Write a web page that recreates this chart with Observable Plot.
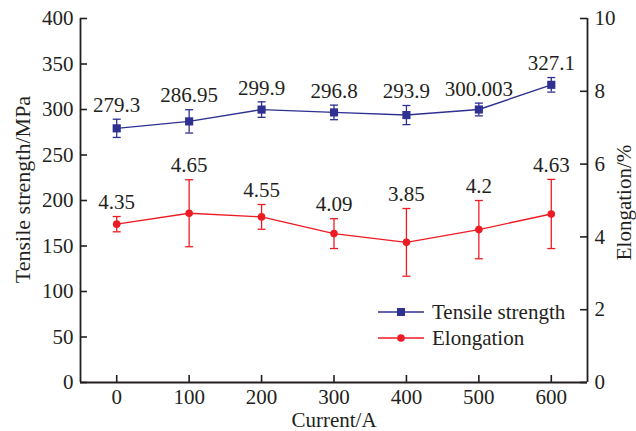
<!DOCTYPE html>
<html><head><meta charset="utf-8">
<script src="https://cdn.jsdelivr.net/npm/d3@7"></script>
<script src="https://cdn.jsdelivr.net/npm/@observablehq/plot@0.6"></script>
<style>
body{margin:0;background:#fff;}
#wrap{position:relative;width:636px;height:431px;}
#legend{position:absolute;left:0;top:0;}
</style></head><body><div id="wrap"></div>
<script>
const currents = [0, 100, 200, 300, 400, 500, 600];
const tensile = [279.3, 286.95, 299.9, 296.8, 293.9, 300.003, 327.1];
const tensileLabels = ["279.3", "286.95", "299.9", "296.8", "293.9", "300.003", "327.1"];
const tensileErr = [10, 12.8, 8.5, 8, 10.5, 7, 8];
const elongation = [4.35, 4.65, 4.55, 4.09, 3.85, 4.2, 4.63];
const elongationLabels = ["4.35", "4.65", "4.55", "4.09", "3.85", "4.2", "4.63"];
const elongationErr = [0.21, 0.92, 0.34, 0.41, 0.93, 0.8, 0.95];
const xTicks = [0, 100, 200, 300, 400, 500, 600];
const leftTicks = [0, 50, 100, 150, 200, 250, 300, 350, 400];
const rightTicks = [0, 2, 4, 6, 8, 10];
const xDomain = [-50, 650];
const leftDomain = [0, 400];
const rightDomain = [0, 10];
const seriesNames = ["Tensile strength", "Elongation"];
const xTitle = "Current/A", leftTitle = "Tensile strength/MPa", rightTitle = "Elongation/%";

const K = leftDomain[1] / rightDomain[1];
const W = 636, H = 431, mL = 80, mR = 49, mT = 18, mB = 49;
const plotW = W - mL - mR, plotH = H - mT - mB;
const ink = "#231f20", blue = "#2e3192", red = "#ed1c24";
const font = "'Liberation Serif', 'Times New Roman', serif";

const rows = currents.map((c, i) => ({
  c,
  t: tensile[i], tLo: tensile[i] - tensileErr[i], tHi: tensile[i] + tensileErr[i], tl: tensileLabels[i],
  e: elongation[i] * K, eLo: (elongation[i] - elongationErr[i]) * K, eHi: (elongation[i] + elongationErr[i]) * K, el: elongationLabels[i]
}));

const cap = {draw(ctx, size) { const r = Math.sqrt(size / Math.PI); ctx.moveTo(-r, 0); ctx.lineTo(r, 0); }};

const plot = Plot.plot({
  width: W, height: H, marginLeft: mL, marginRight: mR, marginTop: mT, marginBottom: mB,
  style: {fontFamily: font, fontSize: "21px", color: ink, background: "#fff"},
  x: {domain: xDomain},
  y: {domain: leftDomain},
  marks: [
    Plot.axisX({ticks: xTicks, tickSize: 0, tickPadding: 7, label: null, fontSize: 21}),
    Plot.axisY({ticks: leftTicks, tickSize: 0, tickPadding: 7, label: null, fontSize: 21}),
    Plot.axisY({anchor: "right", ticks: rightTicks.map(v => v * K), tickFormat: d => String(d / K), tickSize: 0, tickPadding: 7, label: null, fontSize: 21}),
    Plot.text([xTitle], {frameAnchor: "bottom", textAnchor: "middle", lineAnchor: "middle", dy: 38, text: d => d, fontSize: 21, fill: ink, fontFamily: font}),
    Plot.text([leftTitle], {frameAnchor: "left", textAnchor: "middle", lineAnchor: "middle", dx: -58, dy: -11, rotate: -90, text: d => d, fontSize: 22, fill: ink, fontFamily: font}),
    Plot.text([rightTitle], {frameAnchor: "right", textAnchor: "middle", lineAnchor: "middle", dx: 37, dy: 2, rotate: -90, text: d => d, fontSize: 21, fill: ink, fontFamily: font}),
    Plot.ruleX(xTicks, {x: d => d, insetTop: plotH - 7, stroke: ink, strokeWidth: 1.6}),
    Plot.ruleY(leftTicks, {y: d => d, insetRight: plotW - 7, stroke: ink, strokeWidth: 1.6}),
    Plot.ruleY(rightTicks, {y: d => d * K, insetLeft: plotW - 7, stroke: ink, strokeWidth: 1.6}),
    Plot.ruleX(xDomain, {stroke: ink, strokeWidth: 1.8}),
    Plot.ruleY([leftDomain[0]], {stroke: ink, strokeWidth: 1.8}),
    // tensile
    Plot.ruleX(rows, {x: "c", y1: "tLo", y2: "tHi", stroke: blue, strokeWidth: 1.3}),
    Plot.dot(rows, {x: "c", y: "tLo", symbol: cap, r: 4, stroke: blue, fill: "none", strokeWidth: 1.3}),
    Plot.dot(rows, {x: "c", y: "tHi", symbol: cap, r: 4, stroke: blue, fill: "none", strokeWidth: 1.3}),
    Plot.line(rows, {x: "c", y: "t", stroke: blue, strokeWidth: 1.4}),
    Plot.dot(rows, {x: "c", y: "t", symbol: "square", r: 4.6, fill: blue, stroke: "none"}),
    Plot.text(rows, {x: "c", y: "tHi", text: "tl", dy: -14, fill: ink, fontSize: 21, fontFamily: font}),
    // elongation
    Plot.ruleX(rows, {x: "c", y1: "eLo", y2: "eHi", stroke: red, strokeWidth: 1.3}),
    Plot.dot(rows, {x: "c", y: "eLo", symbol: cap, r: 4, stroke: red, fill: "none", strokeWidth: 1.3}),
    Plot.dot(rows, {x: "c", y: "eHi", symbol: cap, r: 4, stroke: red, fill: "none", strokeWidth: 1.3}),
    Plot.line(rows, {x: "c", y: "e", stroke: red, strokeWidth: 1.4}),
    Plot.dot(rows, {x: "c", y: "e", symbol: "circle", r: 3.8, fill: red, stroke: "none"}),
    Plot.text(rows, {x: "c", y: "eHi", text: "el", dy: -14, fill: ink, fontSize: 21, fontFamily: font})
  ]
});
const wrap = document.getElementById("wrap");
wrap.appendChild(plot);

// legend overlay
const ns = "http://www.w3.org/2000/svg";
const lg = document.createElementNS(ns, "svg");
lg.setAttribute("id", "legend");
lg.setAttribute("width", W); lg.setAttribute("height", H);
const items = [{name: seriesNames[0], color: blue, shape: "square", y: 312}, {name: seriesNames[1], color: red, shape: "circle", y: 338}];
for (const it of items) {
  const ln = document.createElementNS(ns, "line");
  ln.setAttribute("x1", 378); ln.setAttribute("x2", 424); ln.setAttribute("y1", it.y); ln.setAttribute("y2", it.y);
  ln.setAttribute("stroke", it.color); ln.setAttribute("stroke-width", 1.4);
  lg.appendChild(ln);
  if (it.shape === "square") {
    const r = document.createElementNS(ns, "rect");
    r.setAttribute("x", 397); r.setAttribute("y", it.y - 4); r.setAttribute("width", 8); r.setAttribute("height", 8);
    r.setAttribute("fill", it.color); lg.appendChild(r);
  } else {
    const c = document.createElementNS(ns, "circle");
    c.setAttribute("cx", 401); c.setAttribute("cy", it.y); c.setAttribute("r", 3.8);
    c.setAttribute("fill", it.color); lg.appendChild(c);
  }
  const t = document.createElementNS(ns, "text");
  t.setAttribute("x", 432); t.setAttribute("y", it.y + 7);
  t.setAttribute("font-family", font); t.setAttribute("font-size", 21); t.setAttribute("fill", ink);
  t.textContent = it.name;
  lg.appendChild(t);
}
wrap.appendChild(lg);
</script></body></html>
